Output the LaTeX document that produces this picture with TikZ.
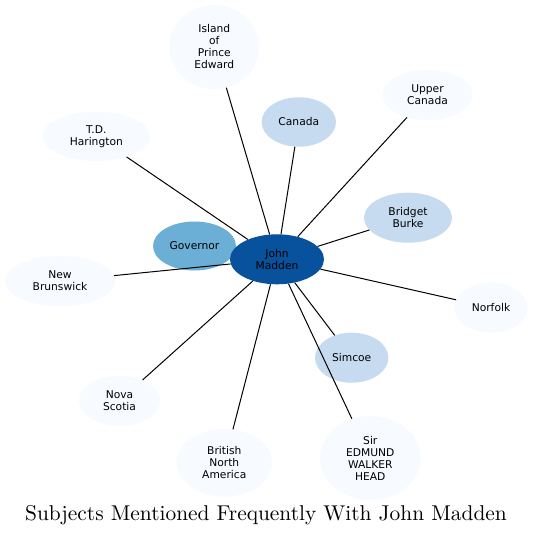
\documentclass[tikz,border=0pt]{standalone}
\usepackage{fontspec}
\newfontfamily\nodefont{DejaVu Sans}
\newfontfamily\titlefont{lmroman10-regular}[Extension=.otf]
\usetikzlibrary{shapes.geometric}
\definecolor{cdark}{HTML}{08519C}
\definecolor{cgov}{HTML}{6BAED6}
\definecolor{cmid}{HTML}{C6DBEF}
\definecolor{clight}{HTML}{F7FBFF}
\tikzset{
  ent/.style={ellipse, inner sep=0pt, align=center, text=black,
    font=\nodefont\fontsize{10.7}{12}\selectfont},
  edge/.style={draw=black, line width=1pt},
}
\newcommand{\ent}[6]{\node[ent, fill=#4, minimum width=#5pt, minimum height=#6pt] (#1) at (#2) {#3};}
\begin{document}
\begin{tikzpicture}[x=1pt,y=-1pt]
\useasboundingbox[fill=white] (0,0) rectangle (533,536);
\ent{gov}{194.5,246}{Governor}{cgov}{83}{49}
\ent{jm}{277,259.3}{John\\Madden}{cdark}{94}{50}
\ent{can}{298.8,122}{Canada}{cmid}{74.4}{49.4}
\ent{bb}{408,217.7}{Bridget\\Burke}{cmid}{88}{50}
\ent{sim}{351.7,357.7}{Simcoe}{cmid}{73.4}{50}
\ent{ipe}{214.3,47}{Island\\of\\Prince\\Edward}{clight}{90}{84}
\ent{uc}{427.5,95}{Upper\\Canada}{clight}{90}{50}
\ent{tdh}{96.3,136.3}{T.D.\\Harington}{clight}{107.4}{49.4}
\ent{nb}{60,281}{New\\Brunswick}{clight}{110}{50}
\ent{nor}{491,307.7}{Norfolk}{clight}{73}{50}
\ent{ns}{119.5,400.7}{Nova\\Scotia}{clight}{81}{50}
\ent{bna}{224.3,462.8}{British\\North\\America}{clight}{95.4}{67.6}
\ent{sewh}{370.3,458}{Sir\\EDMUND\\WALKER\\HEAD}{clight}{100.6}{84}
\foreach \t in {can,bb,sim,ipe,uc,tdh,nb,nor,ns,bna,sewh}
  \draw[edge] (jm) -- (\t);
\node[font=\titlefont\fontsize{21.4}{25}\selectfont, anchor=base, inner sep=0pt] (title) at (266,520) {Subjects Mentioned Frequently With John Madden};
\end{tikzpicture}
\end{document}
